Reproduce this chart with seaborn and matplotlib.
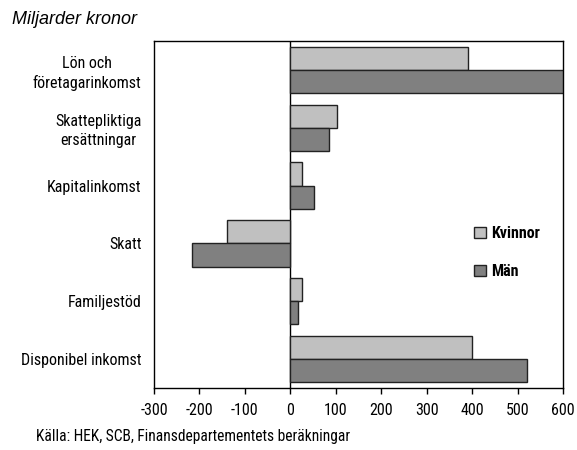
import pandas as pd
import seaborn as sns
import matplotlib.pyplot as plt

# Data (miljarder kronor)
CATEGORIES = [
    "Lön och\nföretagarinkomst",
    "Skattepliktiga\nersättningar",
    "Kapitalinkomst",
    "Skatt",
    "Familjestöd",
    "Disponibel inkomst",
]
KVINNOR = [392, 103, 26, -140, 26, 400]
MAN = [602, 86, 53, -217, 17, 520]
XTICKS = [-300, -200, -100, 0, 100, 200, 300, 400, 500, 600]

sns.set_theme(style="white")
plt.rcParams["font.family"] = ["Roboto Condensed", "DejaVu Sans"]

df = pd.DataFrame(
    {
        "kategori": CATEGORIES * 2,
        "varde": KVINNOR + MAN,
        "kon": ["Kvinnor"] * len(CATEGORIES) + ["Män"] * len(CATEGORIES),
    }
)

fig = plt.figure(figsize=(5.77, 4.5), dpi=100)
ax = fig.add_axes([154 / 577, 1 - 388 / 450, 409 / 577, 347 / 450])

sns.barplot(
    data=df,
    x="varde",
    y="kategori",
    hue="kon",
    orient="h",
    palette=["#c0c0c0", "#808080"],
    edgecolor="#222222",
    linewidth=1.0,
    width=0.8,
    errorbar=None,
    ax=ax,
)

ax.set_xlim(-300, 600)
ax.set_ylim(5.5, -0.5)
ax.axvline(0, color="black", linewidth=1.0, zorder=0.5)
ax.set_xticks(XTICKS)
ax.set_xticklabels([str(t) for t in XTICKS], fontsize=11.5)
ax.tick_params(axis="x", bottom=True, direction="out", length=4, width=1,
               pad=7, colors="black")
ax.tick_params(axis="y", left=False, labelsize=11.5, pad=3, colors="black")
ax.set_xlabel("")
ax.set_ylabel("")
for spine in ax.spines.values():
    spine.set_color("black")
    spine.set_linewidth(1.0)
for lbl in ax.get_yticklabels():
    lbl.set_horizontalalignment("right")
    lbl.set_multialignment("center")
    lbl.set_linespacing(1.3)

leg = ax.legend(
    loc="upper left",
    bbox_to_anchor=(474 / 577, 1 - 226 / 450),
    bbox_transform=fig.transFigure,
    frameon=False,
    borderpad=0,
    borderaxespad=0,
    handlelength=0.75,
    handleheight=0.75,
    handletextpad=0.3,
    labelspacing=1.45,
    prop={"weight": "bold", "size": 11.5},
)
for txt in leg.get_texts():
    txt.set_color("black")

fig.text(12 / 577, 1 - 19 / 450, "Miljarder kronor", fontsize=13, style="italic",
         family=["Liberation Sans", "DejaVu Sans"], va="center", ha="left", color="black")
fig.text(36 / 577, 1 - 437 / 450, "Källa: HEK, SCB, Finansdepartementets beräkningar",
         fontsize=11.2, va="center", ha="left", color="black")

fig.savefig("out.png", dpi=100)
